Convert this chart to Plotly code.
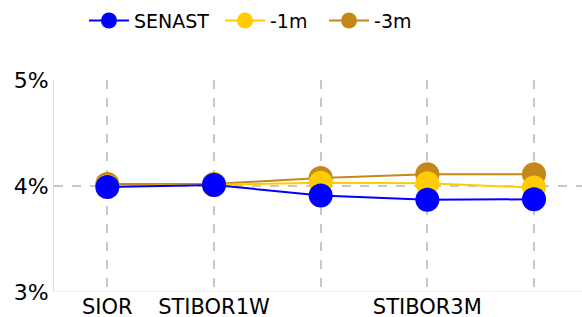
import plotly.graph_objects as go

categories = ["SIOR", "STIBOR1W", "STIBOR1M", "STIBOR3M", "STIBOR6M"]
tick_labels = ["SIOR", "STIBOR1W", "", "STIBOR3M", ""]
y_ticks = [3, 4, 5]
y_tick_labels = ["3%", "4%", "5%"]
senast = [3.99, 4.01, 3.91, 3.87, 3.875]
minus_1m = [3.995, 4.01, 4.03, 4.025, 3.985]
minus_3m = [4.02, 4.02, 4.075, 4.11, 4.11]

series = [
    ("SENAST", senast, "#0000ff", "legend", 0.0568),
    ("-1m", minus_1m, "#ffcc00", "legend2", 0.3144),
    ("-3m", minus_3m, "#c4881a", "legend3", 0.5114),
]

fig = go.Figure()
for name, vals, col, leg, lx in reversed(series):
    fig.add_trace(go.Scatter(
        x=list(range(len(categories))), y=vals, name=name, mode="lines+markers",
        line=dict(color=col, width=2), marker=dict(color=col, size=24),
        legend=leg,
    ))

legend_common = dict(orientation="h", xanchor="left", y=1.28, yanchor="middle",
                     font=dict(size=19), itemwidth=40, bgcolor="rgba(0,0,0,0)")
fig.update_layout(
    width=582, height=317,
    margin=dict(l=54, r=0, t=80, b=25, autoexpand=False),
    paper_bgcolor="white", plot_bgcolor="white",
    font=dict(family="DejaVu Sans", size=18, color="black"),
    showlegend=True,
    legend=dict(x=series[0][4], **legend_common),
    legend2=dict(x=series[1][4], **legend_common),
    legend3=dict(x=series[2][4], **legend_common),
    xaxis=dict(
        range=[-0.5, 4.45], tickmode="array",
        tickvals=list(range(len(categories))), ticktext=tick_labels,
        showgrid=True, gridcolor="#c8c8c8", griddash="dash", gridwidth=2,
        showline=False, zeroline=False, ticks="", tickfont=dict(size=21),
        automargin=False,
    ),
    yaxis=dict(
        range=[3, 5], tickmode="array", tickvals=y_ticks, ticktext=y_tick_labels,
        showgrid=True, gridcolor="#c8c8c8", griddash="dash", gridwidth=2,
        showline=True, linecolor="#dddddd", linewidth=1, zeroline=False,
        ticks="", tickfont=dict(size=22), automargin=False,
    ),
)
fig.add_shape(type="line", xref="paper", yref="y", x0=0, x1=1, y0=3, y1=3,
              line=dict(color="#dddddd", width=1), layer="above")

fig.write_html("out.html", config={"displayModeBar": False},
               post_script="document.body.style.margin='0';")
